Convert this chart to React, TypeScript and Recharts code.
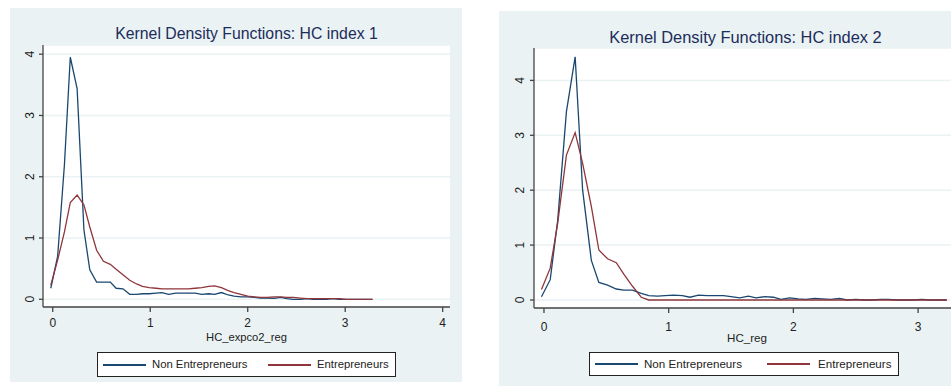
import { LineChart, Line, XAxis, YAxis, CartesianGrid, Label } from "recharts";

const FONT = "'Liberation Sans', Arial, sans-serif";
const C_NON = "#1a476f";
const C_ENT = "#90353b";
const PANEL_BG = "#eaf2f3";

// left panel: HC index 1 (HC_expco2_reg)
const LEFT_X = [
  -0.02, 0.05, 0.12, 0.18, 0.25, 0.32, 0.38, 0.45, 0.52, 0.59,
  0.65, 0.72, 0.79, 0.86, 0.92, 0.99, 1.06, 1.12, 1.19, 1.26,
  1.33, 1.39, 1.46, 1.53, 1.6, 1.66, 1.73, 1.8, 1.86, 1.93,
  2.0, 2.07, 2.13, 2.2, 2.27, 2.34, 2.4, 2.47, 2.54, 2.61,
  2.67, 2.74, 2.81, 2.87, 2.94, 3.01, 3.08, 3.14, 3.21, 3.28,
];
const LEFT_NON = [
  0.18, 0.7, 2.2, 3.95, 3.44, 1.13, 0.48, 0.28, 0.28, 0.28,
  0.18, 0.17, 0.08, 0.08, 0.09, 0.09, 0.1, 0.11, 0.08, 0.1,
  0.1, 0.1, 0.1, 0.08, 0.09, 0.08, 0.11, 0.07, 0.05, 0.04,
  0.04, 0.03, 0.02, 0.02, 0.015, 0.03, 0.01, 0, 0, 0.01,
  0, 0, 0, 0.01, 0, 0, 0, 0, 0, 0,
];
const LEFT_ENT = [
  0.23, 0.64, 1.1, 1.58, 1.7, 1.54, 1.18, 0.8, 0.62, 0.57,
  0.49, 0.4, 0.31, 0.25, 0.21, 0.19, 0.18, 0.17, 0.17, 0.17,
  0.17, 0.17, 0.18, 0.19, 0.21, 0.22, 0.19, 0.14, 0.11, 0.08,
  0.05, 0.04, 0.03, 0.03, 0.04, 0.04, 0.03, 0.03, 0.02, 0.01,
  0.01, 0.01, 0.01, 0.01, 0.01, 0, 0, 0, 0, 0,
];

// right panel: HC index 2 (HC_reg)
const RIGHT_X = [
  -0.02, 0.05, 0.11, 0.18, 0.25, 0.31, 0.38, 0.44, 0.51, 0.58,
  0.64, 0.71, 0.78, 0.84, 0.91, 0.97, 1.04, 1.11, 1.17, 1.24,
  1.31, 1.37, 1.44, 1.5, 1.57, 1.64, 1.7, 1.77, 1.84, 1.9,
  1.97, 2.04, 2.1, 2.17, 2.23, 2.3, 2.37, 2.43, 2.5, 2.57,
  2.63, 2.7, 2.76, 2.83, 2.9, 2.96, 3.03, 3.1, 3.16, 3.23,
];
const RIGHT_NON = [
  0.06, 0.37, 1.45, 3.43, 4.43, 2.0, 0.72, 0.32, 0.27, 0.2,
  0.18, 0.18, 0.12, 0.08, 0.07, 0.08, 0.09, 0.08, 0.05, 0.09,
  0.08, 0.08, 0.08, 0.06, 0.04, 0.07, 0.04, 0.06, 0.05, 0.01,
  0.04, 0.02, 0.01, 0.03, 0.02, 0.01, 0.03, 0, 0.01, 0,
  0, 0.01, 0.01, 0, 0, 0, 0.01, 0, 0, 0,
];
const RIGHT_ENT = [
  0.19, 0.58, 1.4, 2.64, 3.05, 2.49, 1.7, 0.91, 0.75, 0.68,
  0.47, 0.25, 0.05, 0, 0, 0, 0, 0, 0, 0,
  0, 0, 0, 0, 0, 0, 0, 0, 0, 0,
  0, 0, 0, 0, 0, 0, 0, 0, 0, 0,
  0, 0, 0, 0, 0, 0, 0, 0, 0, 0,
];

const LEFT_XTICKS = [0, 1, 2, 3, 4];
const RIGHT_XTICKS = [0, 1, 2, 3];
const YTICKS = [0, 1, 2, 3, 4];

const leftData = LEFT_X.map((x, i) => ({ x, non: LEFT_NON[i], ent: LEFT_ENT[i] }));
const rightData = RIGHT_X.map((x, i) => ({ x, non: RIGHT_NON[i], ent: RIGHT_ENT[i] }));

function RotTick(props: any) {
  const { x, y, payload } = props;
  return (
    <g transform={`translate(${x},${y})`}>
      <text transform="rotate(-90)" textAnchor="middle" dy="0.35em"
        fontSize={12} fill="#222" fontFamily={FONT}>
        {payload.value}
      </text>
    </g>
  );
}

function Panel({
  left, top, width, height, margin, yWidth, data, xDomain, yDomain, xTicks,
  xTickMargin, yTickMargin, xTitle, xTitleSize,
}: any) {
  return (
    <div style={{ position: "absolute", left, top, width, height, background: PANEL_BG }}>
      <LineChart width={width} height={height} data={data} margin={margin}>
        <CartesianGrid horizontal vertical={false} fill="#fff" stroke={PANEL_BG} strokeWidth={1.5} />
        <XAxis
          dataKey="x" type="number" domain={xDomain} ticks={xTicks} allowDataOverflow
          height={40} tickSize={5} tickMargin={xTickMargin}
          stroke="#444" strokeWidth={1.3}
          tick={{ fontSize: 12, fill: "#222", fontFamily: FONT }}
        >
          <Label
            content={(p: any) => {
              const vb = p.viewBox;
              return (
                <text x={vb.x + vb.width / 2} y={vb.y + 34} textAnchor="middle"
                  fontSize={xTitleSize} fill="#222" fontFamily={FONT}>
                  {xTitle}
                </text>
              );
            }}
          />
        </XAxis>
        <YAxis
          type="number" domain={yDomain} ticks={YTICKS} allowDataOverflow
          width={yWidth} tickSize={4} tickMargin={yTickMargin}
          stroke="#444" strokeWidth={1.3} tick={<RotTick />}
        />
        <Line dataKey="non" type="linear" stroke={C_NON} strokeWidth={1.3} dot={false} isAnimationActive={false} />
        <Line dataKey="ent" type="linear" stroke={C_ENT} strokeWidth={1.3} dot={false} isAnimationActive={false} />
      </LineChart>
    </div>
  );
}

function LegendBox({ left, top, width, height, redLine, redText, fontSize }: any) {
  const lineStyle = (l: number, c: string) => ({
    position: "absolute" as const, left: l, top: Math.round(height / 2) - 2, width: 43, height: 2, background: c,
  });
  const textStyle = (l: number) => ({
    position: "absolute" as const, left: l, top: 0, lineHeight: `${height - 2}px`,
    fontSize, color: "#222", fontFamily: FONT, whiteSpace: "nowrap" as const,
  });
  return (
    <div style={{
      position: "absolute", left, top, width, height, boxSizing: "border-box",
      border: "1px solid #222", background: "#fff",
    }}>
      <div style={lineStyle(5, C_NON)} />
      <div style={textStyle(54)}>Non Entrepreneurs</div>
      <div style={lineStyle(redLine, C_ENT)} />
      <div style={textStyle(redText)}>Entrepreneurs</div>
    </div>
  );
}

export default function App() {
  return (
    <div style={{
      position: "absolute", left: 0, top: 0, width: 951, height: 387,
      overflow: "hidden", background: "#fff",
    }}>
      <Panel
        left={10} top={8} width={452} height={374}
        margin={{ top: 37, right: 12, bottom: 35, left: 8 }} yWidth={25}
        data={leftData} xDomain={[-0.1, 4.075]} yDomain={[-0.126, 4.15]}
        xTicks={LEFT_XTICKS} xTickMargin={6} yTickMargin={9}
        xTitle="HC_expco2_reg" xTitleSize={11.2}
      />
      <div style={{
        position: "absolute", left: 43, top: 25.6, width: 407, textAlign: "center",
        fontSize: 15.8, lineHeight: "15.8px", color: "#1c2c5b", fontFamily: FONT, whiteSpace: "nowrap",
      }}>
        Kernel Density Functions: HC index 1
      </div>
      <LegendBox left={97} top={352} width={299} height={25} redLine={170} redText={219} fontSize={11.3} />

      <Panel
        left={499} top={11} width={473} height={375}
        margin={{ top: 37, right: 12, bottom: 38, left: 8 }} yWidth={27}
        data={rightData} xDomain={[-0.08, 3.336]} yDomain={[-0.146, 4.59]}
        xTicks={RIGHT_XTICKS} xTickMargin={9} yTickMargin={10}
        xTitle="HC_reg" xTitleSize={11.6}
      />
      <div style={{
        position: "absolute", left: 534, top: 29.4, width: 423, textAlign: "center",
        fontSize: 16.4, lineHeight: "16.4px", color: "#1c2c5b", fontFamily: FONT, whiteSpace: "nowrap",
      }}>
        Kernel Density Functions: HC index 2
      </div>
      <LegendBox left={589} top={352} width={310} height={24} redLine={177} redText={228} fontSize={11.6} />
    </div>
  );
}
